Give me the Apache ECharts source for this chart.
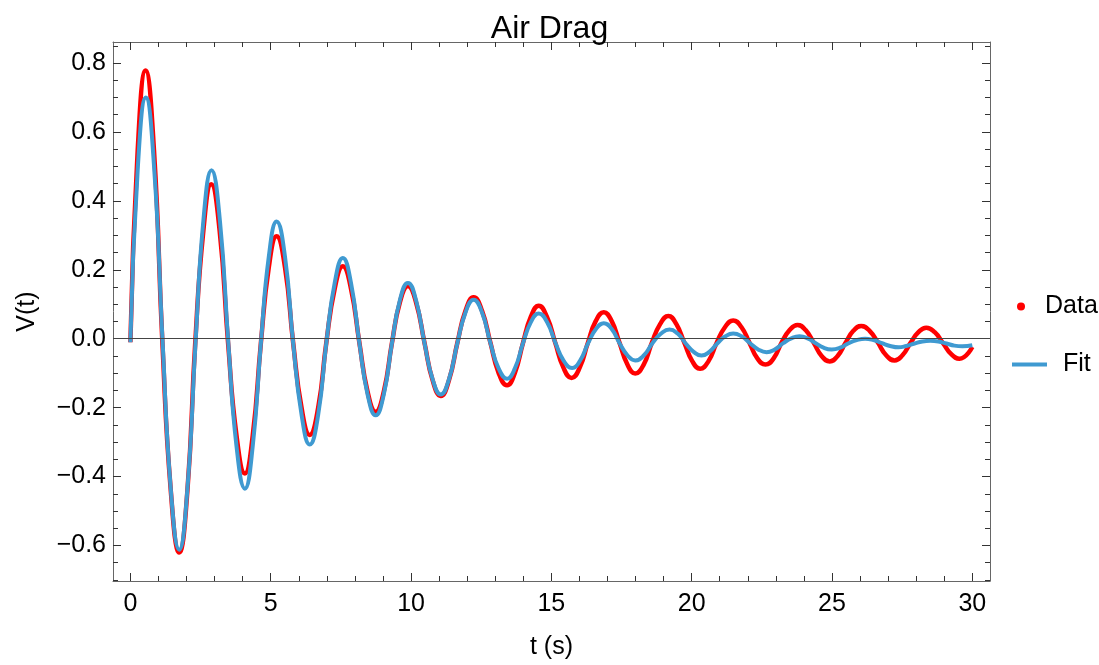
<!DOCTYPE html>
<html>
<head>
<meta charset="utf-8">
<script src="https://cdn.jsdelivr.net/npm/echarts@6/dist/echarts.min.js"></script>
<style>
  html, body { margin: 0; padding: 0; background: #ffffff; }
  #chart { width: 1099px; height: 665px; }
</style>
</head>
<body>
<div id="chart"></div>
<script>
// Fitted damped oscillation (t in s, V): extrema, half-swing and mid-swing readings
const fitTime = [
  0.00, 0.26, 0.55, 0.85, 1.15, 1.44, 1.74, 2.03, 2.32, 2.60,
  2.89, 3.19, 3.49, 3.78, 4.08, 4.36, 4.65, 4.93, 5.21, 5.51,
  5.80, 6.10, 6.39, 6.69, 6.98, 7.28, 7.57, 7.86, 8.16, 8.45,
  8.74, 9.03, 9.32, 9.60, 9.89, 10.18, 10.48, 10.77, 11.06, 11.35,
  11.65, 11.94, 12.23, 12.53, 12.83, 13.12, 13.42, 13.70, 13.99, 14.27,
  14.55, 14.85, 15.15, 15.44, 15.74, 16.02, 16.31, 16.59, 16.87, 17.15,
  17.43, 17.71, 17.99, 18.30, 18.60, 18.91, 19.21, 19.50, 19.78, 20.07,
  20.35, 20.63, 20.92, 21.20, 21.48, 21.78, 22.08, 22.37, 22.67, 22.96,
  23.26, 23.55, 23.84, 24.13, 24.42, 24.70, 24.99, 25.29, 25.59, 25.88,
  26.18, 26.48, 26.78, 27.07, 27.37, 27.65, 27.94, 28.22, 28.50, 28.79,
  29.08, 29.36, 29.65, 30.00
];
const fitValue = [
  -0.010, 0.491, 0.700, 0.491, -0.013, -0.437, -0.612, -0.437, -0.013, 0.342,
  0.489, 0.342, -0.013, -0.311, -0.435, -0.311, -0.013, 0.237, 0.340, 0.237,
  -0.013, -0.221, -0.307, -0.221, -0.013, 0.162, 0.234, 0.162, -0.013, -0.161,
  -0.222, -0.161, -0.013, 0.111, 0.162, 0.111, -0.013, -0.118, -0.162, -0.118,
  -0.013, 0.076, 0.113, 0.076, -0.013, -0.086, -0.116, -0.086, -0.013, 0.048,
  0.073, 0.048, -0.013, -0.064, -0.085, -0.064, -0.013, 0.028, 0.045, 0.028,
  -0.013, -0.048, -0.063, -0.048, -0.013, 0.015, 0.027, 0.015, -0.013, -0.038,
  -0.049, -0.038, -0.013, 0.007, 0.015, 0.007, -0.013, -0.031, -0.039, -0.031,
  -0.013, 0.001, 0.007, 0.001, -0.013, -0.026, -0.031, -0.026, -0.013, -0.004,
  0.000, -0.004, -0.013, -0.021, -0.025, -0.021, -0.014, -0.008, -0.006, -0.008,
  -0.014, -0.020, -0.022, -0.019
];

// Measured voltage trace (t in s, V)
const dataTime = [
  0.00, 0.26, 0.54, 0.84, 1.14, 1.44, 1.74, 2.03, 2.31, 2.60,
  2.88, 3.18, 3.48, 3.78, 4.08, 4.36, 4.65, 4.93, 5.21, 5.51,
  5.80, 6.10, 6.39, 6.69, 6.98, 7.28, 7.57, 7.86, 8.16, 8.45,
  8.74, 9.03, 9.32, 9.60, 9.89, 10.18, 10.48, 10.77, 11.06, 11.35,
  11.65, 11.94, 12.23, 12.53, 12.83, 13.12, 13.42, 13.70, 13.99, 14.27,
  14.55, 14.84, 15.14, 15.43, 15.72, 16.01, 16.30, 16.58, 16.87, 17.15,
  17.43, 17.71, 17.99, 18.29, 18.58, 18.88, 19.17, 19.45, 19.74, 20.02,
  20.30, 20.60, 20.89, 21.19, 21.48, 21.77, 22.06, 22.34, 22.63, 22.92,
  23.20, 23.49, 23.77, 24.06, 24.35, 24.63, 24.92, 25.20, 25.48, 25.76,
  26.04, 26.34, 26.64, 26.93, 27.23, 27.51, 27.80, 28.08, 28.36, 28.66,
  28.95, 29.25, 29.54, 30.00
];
const dataValue = [
  -0.010, 0.547, 0.778, 0.547, -0.012, -0.442, -0.620, -0.442, -0.012, 0.313,
  0.448, 0.313, -0.012, -0.280, -0.391, -0.280, -0.012, 0.206, 0.297, 0.206,
  -0.012, -0.201, -0.279, -0.201, -0.012, 0.145, 0.210, 0.145, -0.012, -0.153,
  -0.212, -0.153, -0.012, 0.105, 0.153, 0.105, -0.012, -0.121, -0.166, -0.121,
  -0.012, 0.081, 0.120, 0.081, -0.012, -0.099, -0.135, -0.099, -0.012, 0.064,
  0.096, 0.064, -0.012, -0.084, -0.114, -0.084, -0.012, 0.051, 0.077, 0.051,
  -0.012, -0.075, -0.101, -0.075, -0.012, 0.043, 0.066, 0.043, -0.012, -0.065,
  -0.087, -0.065, -0.012, 0.034, 0.053, 0.034, -0.012, -0.057, -0.075, -0.057,
  -0.012, 0.025, 0.040, 0.025, -0.012, -0.050, -0.066, -0.050, -0.012, 0.023,
  0.037, 0.023, -0.012, -0.048, -0.063, -0.048, -0.012, 0.019, 0.032, 0.019,
  -0.012, -0.045, -0.058, -0.024
];

// Frame ticks
const xMajorTicks = [0, 5, 10, 15, 20, 25, 30];
const xMinorTicks = [1, 2, 3, 4, 6, 7, 8, 9, 11, 12, 13, 14, 16, 17, 18, 19, 21, 22, 23, 24, 26, 27, 28, 29];
const yMajorTicks = [-0.6, -0.4, -0.2, 0, 0.2, 0.4, 0.6, 0.8];
const yMinorTicks = [-0.7, -0.65, -0.55, -0.5, -0.45, -0.35, -0.3, -0.25, -0.15, -0.1, -0.05,
  0.05, 0.1, 0.15, 0.25, 0.3, 0.35, 0.45, 0.5, 0.55, 0.65, 0.7, 0.75, 0.85];

const X_MIN = -0.62, X_MAX = 30.63;
const Y_MIN = -0.703, Y_MAX = 0.861;

const FONT = "'Liberation Sans', Arial, sans-serif";
const FRAME = '#666666';
const TICK = '#333333';

function pairs(ts, vs) {
  return ts.map((t, i) => [t, vs[i]]);
}

function minusSign(s) {
  return s.replace('-', '\u2212');
}

function frameAxis(dim, position, ticks, len, opts) {
  const o = opts || {};
  return {
    type: 'value',
    position: position,
    min: dim === 'x' ? X_MIN : Y_MIN,
    max: dim === 'x' ? X_MAX : Y_MAX,
    axisLine: { show: !!o.line, onZero: false, lineStyle: { color: FRAME, width: 1 } },
    axisTick: { show: true, inside: true, length: len, customValues: ticks,
                lineStyle: { color: TICK, width: 1 } },
    axisLabel: o.labels ? Object.assign({ show: true, customValues: ticks, color: '#000',
                fontFamily: FONT, fontSize: 25 }, o.labels) : { show: false },
    splitLine: { show: false },
    name: o.name || '',
    nameLocation: 'middle',
    nameGap: o.nameGap || 0,
    nameTextStyle: { color: '#000', fontFamily: FONT, fontSize: 25 }
  };
}

const chart = echarts.init(document.getElementById('chart'), null, { renderer: 'canvas' });

chart.setOption({
  animation: false,
  backgroundColor: '#ffffff',
  title: {
    text: 'Air Drag',
    left: 'center',
    top: 8,
    textStyle: { color: '#000', fontFamily: FONT, fontSize: 32, fontWeight: 'normal' }
  },
  grid: { left: 113, top: 42, width: 877, height: 541, containLabel: false },
  legend: [
    {
      data: ['Data'], left: 1017, top: 294, padding: 0, selectedMode: false,
      icon: 'circle', itemWidth: 8, itemHeight: 8,
      textStyle: { color: '#000', fontFamily: FONT, fontSize: 25, padding: [0, 0, 0, 15] }
    },
    {
      data: ['Fit'], left: 1012, top: 352, padding: 0, selectedMode: false,
      icon: 'rect', itemWidth: 35, itemHeight: 4,
      textStyle: { color: '#000', fontFamily: FONT, fontSize: 25, padding: [0, 0, 0, 11] }
    }
  ],
  xAxis: [
    frameAxis('x', 'bottom', xMajorTicks, 8, {
      line: true, name: 't (s)', nameGap: 54,
      labels: { margin: 11, formatter: v => String(v) }
    }),
    frameAxis('x', 'bottom', xMinorTicks, 5),
    frameAxis('x', 'top', xMajorTicks, 8, { line: true }),
    frameAxis('x', 'top', xMinorTicks, 5)
  ],
  yAxis: [
    frameAxis('y', 'left', yMajorTicks, 8, {
      line: true, name: 'V(t)', nameGap: 73,
      labels: { margin: 7, formatter: v => minusSign(v.toFixed(1)) }
    }),
    frameAxis('y', 'left', yMinorTicks, 5),
    frameAxis('y', 'right', yMajorTicks, 8, { line: true }),
    frameAxis('y', 'right', yMinorTicks, 5)
  ],
  series: [
    {
      name: 'Data',
      type: 'line',
      xAxisIndex: 0, yAxisIndex: 0,
      data: pairs(dataTime, dataValue),
      smooth: 0.5,
      showSymbol: false,
      z: 2,
      color: '#ff0000',
      itemStyle: { color: '#ff0000' },
      lineStyle: { color: '#ff0000', width: 4.5 },
      markLine: {
        silent: true,
        symbol: ['none', 'none'],
        label: { show: false },
        lineStyle: { color: '#444444', width: 1, type: 'solid' },
        data: [{ yAxis: 0 }]
      }
    },
    {
      name: 'Fit',
      type: 'line',
      xAxisIndex: 0, yAxisIndex: 0,
      data: pairs(fitTime, fitValue),
      smooth: 0.5,
      showSymbol: false,
      z: 3,
      color: '#3f9ad1',
      itemStyle: { color: '#3f9ad1' },
      lineStyle: { color: '#3f9ad1', width: 4 }
    }
  ]
});
</script>
</body>
</html>
